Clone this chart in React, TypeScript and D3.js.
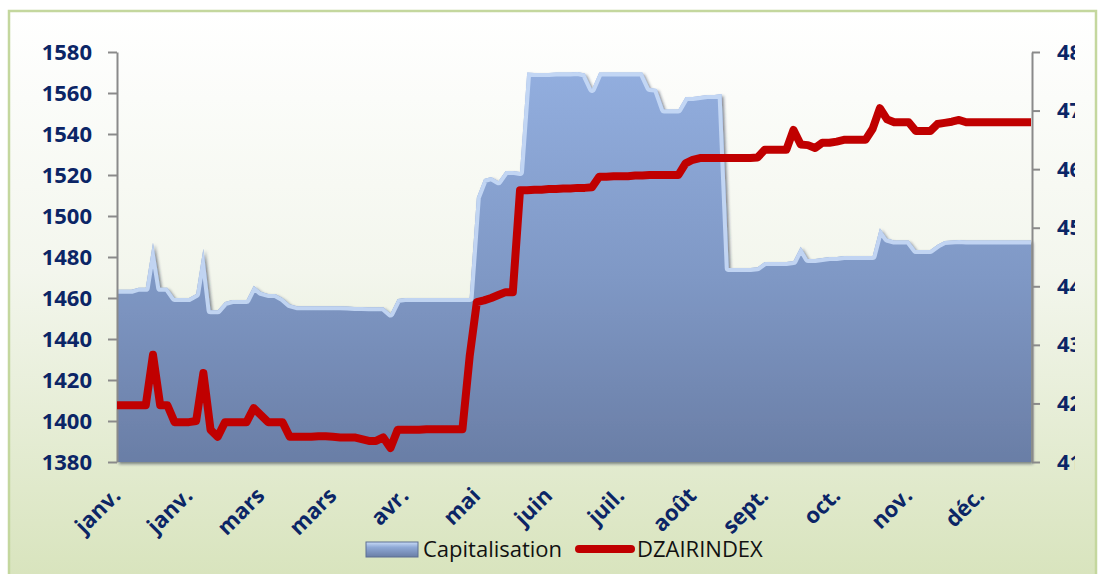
import React from "react";
import * as d3 from "d3";

// capitalisation (left axis), one value per period
const capitalisation = [
  1464, 1464, 1464, 1465, 1465, 1487, 1465, 1465, 1460, 1460,
  1460, 1462, 1484, 1454, 1454, 1458, 1459, 1459, 1459, 1466,
  1463, 1462, 1462, 1460, 1457, 1456, 1456, 1456, 1456, 1456,
  1456, 1456, 1455.8, 1455.6, 1455.6, 1455.5, 1455.5, 1455.5, 1452.5, 1459.5,
  1460, 1460, 1460, 1460, 1460, 1460, 1460, 1460, 1460, 1460,
  1509, 1518, 1519, 1517, 1522, 1522, 1521.5, 1570, 1569.8, 1569.8,
  1569.8, 1570, 1570, 1570, 1570.2, 1569.5, 1562, 1570, 1570, 1570,
  1570, 1570, 1570, 1570, 1562.4, 1562, 1552, 1552, 1552, 1558,
  1558, 1558.5, 1559, 1559, 1559.5, 1474.6, 1474.6, 1474.6, 1474.6, 1475,
  1477.6, 1477.6, 1477.6, 1477.6, 1478, 1485, 1479, 1479, 1479.5, 1480,
  1480, 1480.5, 1480.5, 1480.5, 1480.5, 1480.5, 1494, 1489, 1488, 1488,
  1488, 1483.4, 1483.4, 1483.4, 1486, 1487.8, 1488, 1488.3, 1488, 1488,
  1488, 1488, 1488, 1488, 1488, 1488, 1488, 1488,
];

// DZAIRINDEX (right axis)
const dzairIndex = [
  419.7, 419.7, 419.7, 419.7, 419.7, 428.3, 419.7, 419.7, 416.8, 416.8,
  416.8, 417, 425.2, 415.5, 414.3, 416.8, 416.8, 416.8, 416.8, 419.2,
  418, 416.8, 416.8, 416.8, 414.3, 414.3, 414.3, 414.3, 414.4, 414.4,
  414.3, 414.2, 414.2, 414.2, 413.9, 413.6, 413.6, 414.2, 412.4, 415.5,
  415.5, 415.5, 415.5, 415.6, 415.6, 415.6, 415.6, 415.6, 415.6, 428,
  437.3, 437.6, 438, 438.5, 439, 439, 456.4, 456.4, 456.5, 456.5,
  456.6, 456.6, 456.7, 456.7, 456.8, 456.8, 456.9, 458.7, 458.7, 458.8,
  458.8, 458.8, 458.9, 458.9, 459, 459, 459, 459, 459, 461,
  461.6, 461.9, 461.9, 461.9, 461.9, 461.9, 461.9, 461.9, 461.9, 462,
  463.3, 463.3, 463.3, 463.3, 466.7, 464.2, 464.1, 463.6, 464.5, 464.5,
  464.7, 465, 465, 465, 465, 466.9, 470.4, 468.5, 468, 468,
  468, 466.5, 466.5, 466.5, 467.7, 467.9, 468.1, 468.4, 468, 468,
  468, 468, 468, 468, 468, 468, 468, 468,
];

// month labels, shown every 10th period
const monthLabels = [
  "janv.", "janv.", "mars", "mars", "avr.", "mai", "juin",
  "juil.", "août", "sept.", "oct.", "nov.", "déc.",
];
const labelStep = 10;

const leftTicks = [1380, 1400, 1420, 1440, 1460, 1480, 1500, 1520, 1540, 1560, 1580];
const rightTicks = [410, 420, 430, 440, 450, 460, 470, 480];

const W = 1101;
const H = 574;
const plot = { left: 117, right: 1031, top: 52, bottom: 462 };
const navy = "#0b2566";
const font = "'Open Sans', 'DejaVu Sans', sans-serif";

const App = () => {
  const svgRef = React.useRef<SVGSVGElement>(null);

  React.useEffect(() => {
    const svgEl = d3.select(svgRef.current);
    svgEl.selectAll("*").remove();

    const x = d3
      .scaleLinear()
      .domain([0, capitalisation.length - 1])
      .range([plot.left, plot.right]);
    const yLeft = d3.scaleLinear().domain([1380, 1580]).range([plot.bottom, plot.top]);
    const yRight = d3.scaleLinear().domain([410, 480]).range([plot.bottom, plot.top]);

    const defs = svgEl.append("defs");

    const bg = defs
      .append("linearGradient")
      .attr("id", "bg")
      .attr("x1", 0).attr("y1", 0).attr("x2", 0).attr("y2", 1);
    bg.append("stop").attr("offset", "0%").attr("stop-color", "#ffffff");
    bg.append("stop").attr("offset", "45%").attr("stop-color", "#f3f6ed");
    bg.append("stop").attr("offset", "100%").attr("stop-color", "#d7e3bb");

    const areaGrad = defs
      .append("linearGradient")
      .attr("id", "areaGrad")
      .attr("gradientUnits", "userSpaceOnUse")
      .attr("x1", 0).attr("y1", plot.top).attr("x2", 0).attr("y2", plot.bottom);
    areaGrad.append("stop").attr("offset", "0%").attr("stop-color", "#94b0e1");
    areaGrad.append("stop").attr("offset", "55%").attr("stop-color", "#7f98c5");
    areaGrad.append("stop").attr("offset", "100%").attr("stop-color", "#6a7ea6");

    const swatchGrad = defs
      .append("linearGradient")
      .attr("id", "swatchGrad")
      .attr("x1", 0).attr("y1", 0).attr("x2", 0).attr("y2", 1);
    swatchGrad.append("stop").attr("offset", "0%").attr("stop-color", "#c9dcf7");
    swatchGrad.append("stop").attr("offset", "35%").attr("stop-color", "#8fa9d6");
    swatchGrad.append("stop").attr("offset", "100%").attr("stop-color", "#6a7ea6");

    const shadow = defs.append("filter").attr("id", "shadow")
      .attr("x", "-5%").attr("y", "-5%").attr("width", "110%").attr("height", "115%");
    shadow
      .append("feDropShadow")
      .attr("dx", 2).attr("dy", 2).attr("stdDeviation", 1.6)
      .attr("flood-color", "#1f2a40").attr("flood-opacity", 0.55);

    const area = d3
      .area<number>()
      .x((d, i) => x(i))
      .y0(plot.bottom)
      .y1((d) => yLeft(d));
    const topEdge = d3
      .line<number>()
      .x((d, i) => x(i))
      .y((d) => yLeft(d));

    defs.append("clipPath").attr("id", "areaClip")
      .append("path").attr("d", area(capitalisation));
    // the right labels are cut by the chart frame in the original
    defs.append("clipPath").attr("id", "rightClip")
      .append("rect").attr("x", 0).attr("y", 0).attr("width", 1075).attr("height", H);

    // chart frame
    svgEl
      .append("rect")
      .attr("x", 9).attr("y", 11)
      .attr("width", 1087).attr("height", 580)
      .attr("fill", "url(#bg)")
      .attr("stroke", "#c4d79e")
      .attr("stroke-width", 2.5);

    const svg = svgEl.append("g");

    // capitalisation area with a bevelled top
    svg
      .append("path")
      .attr("d", area(capitalisation))
      .attr("fill", "url(#areaGrad)")
      .attr("filter", "url(#shadow)");
    svg
      .append("path")
      .attr("d", topEdge(capitalisation))
      .attr("clip-path", "url(#areaClip)")
      .attr("fill", "none")
      .attr("stroke", "#c8daf6")
      .attr("stroke-width", 8)
      .attr("stroke-linejoin", "round")
      .attr("opacity", 0.9);

    // axes
    const fmt = d3.format("d");
    const yAxisLeft = d3.axisLeft(yLeft).tickValues(leftTicks).tickFormat(fmt)
      .tickSize(9).tickSizeOuter(0).tickPadding(16);
    const leftGroup = svg.append("g").attr("transform", `translate(${plot.left},0)`).call(yAxisLeft);

    const yAxisRight = d3.axisRight(yRight).tickValues(rightTicks).tickFormat(fmt)
      .tickSize(8).tickSizeOuter(0).tickPadding(17);
    const rightGroup = svg
      .append("g")
      .attr("clip-path", "url(#rightClip)")
      .append("g")
      .attr("transform", `translate(${plot.right + 1},0)`)
      .call(yAxisRight);

    [leftGroup, rightGroup].forEach((g) => {
      g.select(".domain").attr("stroke", "#8a8a8a").attr("stroke-width", 2);
      g.selectAll(".tick line").attr("stroke", "#8a8a8a").attr("stroke-width", 2);
      g.selectAll("text")
        .attr("fill", navy)
        .attr("font-family", font)
        .attr("font-weight", 700)
        .attr("font-size", 22);
    });

    // month labels
    svg
      .selectAll(".month")
      .data(monthLabels)
      .enter()
      .append("text")
      .attr("class", "month")
      .attr("transform", (d, i) => `translate(${x(i * labelStep) + 5},497) rotate(-45)`)
      .attr("text-anchor", "end")
      .attr("fill", navy)
      .attr("font-family", font)
      .attr("font-weight", 700)
      .attr("font-size", 22)
      .text((d) => d);

    // DZAIRINDEX line
    const line = d3
      .line<number>()
      .x((d, i) => x(i))
      .y((d) => yRight(d));
    svg
      .append("path")
      .attr("d", line(dzairIndex))
      .attr("fill", "none")
      .attr("stroke", "#c00000")
      .attr("stroke-width", 8)
      .attr("stroke-linejoin", "round");

    // legend
    const legend = svg.append("g");
    legend
      .append("rect")
      .attr("x", 366).attr("y", 542)
      .attr("width", 52).attr("height", 15)
      .attr("fill", "url(#swatchGrad)")
      .attr("stroke", "#5d6f93")
      .attr("stroke-width", 1);
    legend
      .append("text")
      .attr("x", 423).attr("y", 557)
      .attr("font-family", font)
      .attr("font-size", 22)
      .attr("fill", "#111")
      .text("Capitalisation");
    legend
      .append("line")
      .attr("x1", 579).attr("x2", 631)
      .attr("y1", 549).attr("y2", 549)
      .attr("stroke", "#c00000")
      .attr("stroke-width", 8)
      .attr("stroke-linecap", "round");
    legend
      .append("text")
      .attr("x", 637).attr("y", 557)
      .attr("font-family", font)
      .attr("font-size", 22)
      .attr("fill", "#111")
      .text("DZAIRINDEX");
  }, []);

  return (
    <svg
      ref={svgRef}
      width={W}
      height={H}
      style={{ position: "absolute", left: 0, top: 0, background: "#fff" }}
    />
  );
};

export default App;
